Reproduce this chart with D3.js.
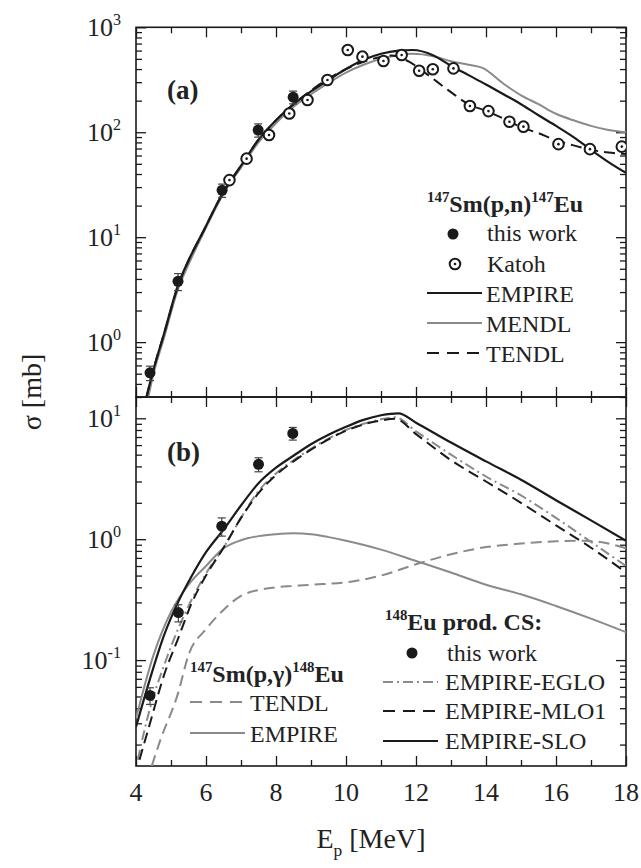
<!DOCTYPE html>
<html>
<head>
<meta charset="utf-8">
<script src="https://cdn.jsdelivr.net/npm/d3@7"></script>
<style>
body { margin: 0; background: #fff; }
text { font-family: "Liberation Serif", "Times New Roman", serif; fill: #222; }
</style>
</head>
<body>
<svg id="chart" width="641" height="868"></svg>
<script>
// ---- data ----
const energyTicks = [4, 6, 8, 10, 12, 14, 16, 18];

// (a) 147Sm(p,n)147Eu
const pnWorkE = [4.4, 5.2, 6.46, 7.49, 8.49];
const pnWorkCS = [0.51, 3.8, 28, 105, 216];
const pnWorkErr = [0.08, 0.7, 4, 15, 30];

const katohE = [6.67, 7.16, 7.8, 8.38, 8.9, 9.47, 10.05, 10.47, 11.07, 11.59, 12.09, 12.48, 13.07, 13.54, 14.07, 14.67, 15.07, 16.07, 16.97, 17.88];
const katohCS = [35, 56, 94, 151, 203, 315, 608, 525, 477, 545, 385, 398, 406, 178, 159, 126, 113, 77, 69, 73];

const pnEmpire = [[4.3, 0.3], [4.5, 0.55], [4.8, 1.2], [5.2, 3.5], [5.5, 6], [5.9, 11], [6.5, 27], [7, 48], [7.5, 85], [8, 130], [8.5, 185], [9, 245], [9.5, 315], [10, 400], [10.5, 490], [11, 560], [11.5, 600], [11.9, 608], [12.5, 540], [13, 430], [13.5, 350], [14, 285], [14.5, 230], [15, 185], [15.5, 145], [16, 115], [16.5, 90], [17, 68], [17.5, 52], [18, 41]];
const pnMendl = [[4.35, 0.3], [4.5, 0.5], [4.8, 1.1], [5.2, 3.2], [5.5, 5.5], [5.9, 10.5], [6.5, 26], [7, 46], [7.5, 80], [8, 122], [8.5, 175], [9, 230], [9.5, 295], [10, 370], [10.5, 440], [11, 500], [11.5, 545], [11.9, 560], [12.5, 530], [13, 475], [13.5, 440], [13.9, 410], [14.5, 290], [15, 225], [15.5, 185], [16, 150], [16.5, 130], [17, 115], [17.5, 105], [18, 100]];
const pnTendl = [[4.3, 0.3], [4.5, 0.55], [4.8, 1.2], [5.2, 3.4], [5.5, 6], [5.9, 11], [6.5, 27], [7, 48], [7.5, 85], [8, 130], [8.5, 185], [9, 250], [9.5, 325], [10, 400], [10.5, 470], [11, 520], [11.3, 540], [11.8, 470], [12.3, 360], [12.9, 255], [13.5, 185], [14, 160], [14.5, 135], [15, 112], [15.5, 98], [16, 84], [16.5, 75], [17, 68], [17.5, 64], [18, 62]];

// (b) 148Eu production
const pgWorkE = [4.4, 5.21, 6.45, 7.5, 8.48];
const pgWorkCS = [0.051, 0.247, 1.28, 4.16, 7.5];
const pgWorkErr = [0.008, 0.04, 0.22, 0.55, 0.9];

const euSlo = [[4.0, 0.028], [4.4, 0.07], [4.8, 0.16], [5.2, 0.3], [5.6, 0.5], [6, 0.78], [6.5, 1.2], [7, 1.9], [7.5, 2.9], [8, 3.9], [8.5, 4.9], [9, 6.1], [9.5, 7.3], [10, 8.5], [10.5, 9.7], [11, 10.6], [11.5, 11.0], [12, 9.2], [13, 6.3], [14, 4.4], [15, 3.1], [16, 2.1], [17, 1.43], [18, 0.97]];
const euEglo = [[4.05, 0.015], [4.4, 0.04], [4.8, 0.09], [5.2, 0.18], [5.6, 0.32], [6, 0.52], [6.5, 0.85], [7, 1.5], [7.5, 2.5], [8, 3.5], [8.5, 4.5], [9, 5.6], [9.5, 6.8], [10, 8.0], [10.5, 9.0], [11, 9.8], [11.4, 10.2], [12, 7.8], [13, 5.0], [14, 3.3], [15, 2.3], [16, 1.5], [17, 0.95], [18, 0.6]];
const euMlo1 = [[4.1, 0.015], [4.4, 0.03], [4.8, 0.075], [5.2, 0.15], [5.6, 0.3], [6, 0.5], [6.5, 0.85], [7, 1.5], [7.5, 2.4], [8, 3.4], [8.5, 4.4], [9, 5.5], [9.5, 6.7], [10, 7.9], [10.5, 8.9], [11, 9.6], [11.4, 9.9], [12, 7.4], [13, 4.5], [14, 3.0], [15, 2.0], [16, 1.3], [17, 0.85], [18, 0.53]];
const pgTendl = [[4.45, 0.0133], [4.7, 0.022], [5.2, 0.053], [5.5, 0.11], [6, 0.18], [6.5, 0.26], [7, 0.34], [7.5, 0.38], [8, 0.4], [8.5, 0.41], [9, 0.42], [10, 0.44], [11, 0.5], [12, 0.62], [13, 0.75], [14, 0.86], [15, 0.92], [16, 0.96], [16.8, 0.97], [17.5, 0.92], [18, 0.84]];
const pgEmpire = [[4.0, 0.033], [4.5, 0.11], [5, 0.25], [5.5, 0.42], [6, 0.6], [6.5, 0.84], [7, 0.98], [7.5, 1.06], [8, 1.1], [8.5, 1.12], [9, 1.1], [9.5, 1.04], [10, 0.97], [11, 0.82], [12, 0.66], [13, 0.53], [14, 0.42], [15, 0.35], [16, 0.28], [17, 0.22], [18, 0.17]];

// ---- layout ----
const GRAY = "#8a8a8a", BLACK = "#1a1a1a";
const frameL = 136, frameR = 626, frameT = 27.3, frameM = 397, frameB = 766;

const svg = d3.select("#chart");
const x = d3.scaleLinear().domain([4, 18]).range([frameL, frameR]);
const yA = d3.scaleLog().domain([0.3, 1000]).range([frameM, frameT]);
const yB = d3.scaleLog().domain([0.0133, 15]).range([frameB, frameM]);

function logMinor(y) {
	const [lo, hi] = y.domain();
	const out = [];
	for (let d = Math.floor(Math.log10(lo)); d <= Math.ceil(Math.log10(hi)); d++) {
		for (let m = 2; m <= 9; m++) {
			const v = m * Math.pow(10, d);
			if (v >= lo && v <= hi) out.push(v);
		}
	}
	return out;
}
function logMajor(y) {
	const [lo, hi] = y.domain();
	const out = [];
	for (let d = Math.ceil(Math.log10(lo)); d <= Math.floor(Math.log10(hi)); d++) out.push(Math.pow(10, d));
	return out;
}

function addAxis(g, axis, tr) {
	const a = g.append("g").attr("transform", tr).call(axis);
	a.select(".domain").remove();
	a.selectAll("line").attr("stroke", BLACK).attr("stroke-width", 1.3);
}

// rich text with superscript / subscript pieces
function rich(g, px, py, parts, size, opts = {}) {
	const t = g.append("text").attr("x", px).attr("y", py)
		.attr("font-size", size)
		.attr("font-weight", opts.bold ? "bold" : null)
		.attr("text-anchor", opts.anchor || "start");
	let shift = 0;
	parts.forEach(([s, kind]) => {
		const target = kind === "sup" ? -size * 0.42 : kind === "sub" ? size * 0.3 : 0;
		t.append("tspan")
			.attr("dy", target - shift)
			.attr("font-size", kind ? size * 0.62 : size)
			.text(s);
		shift = target;
	});
	return t;
}

function drawPanel(y, y0, y1, id) {
	const g = svg.append("g");
	g.append("clipPath").attr("id", id).append("rect")
		.attr("x", frameL).attr("y", y1).attr("width", frameR - frameL).attr("height", y0 - y1);

	const minorX = d3.range(5, 18, 2);
	addAxis(g, d3.axisBottom(x).tickValues(energyTicks).tickSize(-10).tickFormat(""), `translate(0,${y0})`);
	addAxis(g, d3.axisBottom(x).tickValues(minorX).tickSize(-6).tickFormat(""), `translate(0,${y0})`);
	addAxis(g, d3.axisTop(x).tickValues(energyTicks).tickSize(-10).tickFormat(""), `translate(0,${y1})`);
	addAxis(g, d3.axisTop(x).tickValues(minorX).tickSize(-6).tickFormat(""), `translate(0,${y1})`);
	addAxis(g, d3.axisLeft(y).tickValues(logMajor(y)).tickSize(-10).tickFormat(""), `translate(${frameL},0)`);
	addAxis(g, d3.axisLeft(y).tickValues(logMinor(y)).tickSize(-6).tickFormat(""), `translate(${frameL},0)`);
	addAxis(g, d3.axisRight(y).tickValues(logMajor(y)).tickSize(-10).tickFormat(""), `translate(${frameR},0)`);
	addAxis(g, d3.axisRight(y).tickValues(logMinor(y)).tickSize(-6).tickFormat(""), `translate(${frameR},0)`);

	g.append("rect").attr("x", frameL).attr("y", y1).attr("width", frameR - frameL).attr("height", y0 - y1)
		.attr("fill", "none").attr("stroke", BLACK).attr("stroke-width", 1.6);

	logMajor(y).forEach(v => {
		rich(g, 121, y(v) + 9, [["10"], [String(Math.round(Math.log10(v))), "sup"]], 26, { anchor: "end" });
	});
	return g.append("g").attr("clip-path", `url(#${id})`);
}

const line = (y) => d3.line().x(d => x(d[0])).y(d => y(d[1])).curve(d3.curveMonotoneX);

function curve(g, y, data, color, width, dash) {
	g.append("path").datum(data).attr("d", line(y))
		.attr("fill", "none").attr("stroke", color).attr("stroke-width", width)
		.attr("stroke-dasharray", dash || null);
}

function filledPoints(g, y, es, vs, errs) {
	es.forEach((e, i) => {
		const cx = x(e), lo = y(vs[i] - errs[i]), hi = y(vs[i] + errs[i]);
		g.append("line").attr("x1", cx).attr("x2", cx).attr("y1", lo).attr("y2", hi).attr("stroke", "#444").attr("stroke-width", 1.2);
		[lo, hi].forEach(yy => g.append("line").attr("x1", cx - 4).attr("x2", cx + 4).attr("y1", yy).attr("y2", yy).attr("stroke", "#444").attr("stroke-width", 1.2));
		g.append("circle").attr("cx", cx).attr("cy", y(vs[i])).attr("r", 5.5).attr("fill", BLACK);
	});
}

function katohMark(g, cx, cy) {
	g.append("circle").attr("cx", cx).attr("cy", cy).attr("r", 5.3).attr("fill", "#fff").attr("stroke", BLACK).attr("stroke-width", 2);
	g.append("circle").attr("cx", cx).attr("cy", cy).attr("r", 1.3).attr("fill", BLACK);
}

const DASH = "11,6", DASHDOT = "10,4,2,4";

// ---- panel (a) ----
const pa = drawPanel(yA, frameM, frameT, "clipA");
curve(pa, yA, pnMendl, GRAY, 2);
curve(pa, yA, pnTendl, BLACK, 2, DASH);
curve(pa, yA, pnEmpire, BLACK, 2.2);
katohE.forEach((e, i) => katohMark(pa, x(e), yA(katohCS[i])));
filledPoints(pa, yA, pnWorkE, pnWorkCS, pnWorkErr);

// ---- panel (b) ----
const pb = drawPanel(yB, frameB, frameM, "clipB");
curve(pb, yB, pgEmpire, GRAY, 2);
curve(pb, yB, pgTendl, GRAY, 2, DASH);
curve(pb, yB, euEglo, GRAY, 2, DASHDOT);
curve(pb, yB, euMlo1, BLACK, 2, DASH);
curve(pb, yB, euSlo, BLACK, 2.2);
filledPoints(pb, yB, pgWorkE, pgWorkCS, pgWorkErr);

// ---- labels ----
const lab = svg.append("g");
energyTicks.forEach(e => lab.append("text").attr("x", x(e)).attr("y", 801).attr("text-anchor", "middle").attr("font-size", 26).text(e));
rich(lab, 371, 848, [["E"], ["p", "sub"], [" [MeV]"]], 28, { anchor: "middle" });
lab.append("text").attr("transform", "translate(41,392) rotate(-90)").attr("text-anchor", "middle").attr("font-size", 28).text("σ [mb]");

lab.append("text").attr("x", 167).attr("y", 99).attr("font-size", 27).attr("font-weight", "bold").text("(a)");
lab.append("text").attr("x", 167).attr("y", 461).attr("font-size", 27).attr("font-weight", "bold").text("(b)");

// legend rows
function legendLine(g, x1, x2, yy, color, width, dash) {
	g.append("line").attr("x1", x1).attr("x2", x2).attr("y1", yy).attr("y2", yy)
		.attr("stroke", color).attr("stroke-width", width).attr("stroke-dasharray", dash || null);
}
function legendText(g, px, py, s) {
	g.append("text").attr("x", px).attr("y", py).attr("font-size", 24).text(s);
}

// (a) legend
rich(lab, 427, 212, [["147", "sup"], ["Sm(p,n)"], ["147", "sup"], ["Eu"]], 24, { bold: true });
lab.append("circle").attr("cx", 453).attr("cy", 234).attr("r", 5.5).attr("fill", BLACK);
legendText(lab, 487, 241, "this work");
katohMark(lab, 455, 264);
legendText(lab, 487, 272, "Katoh");
legendLine(lab, 427, 482, 293, BLACK, 2.2);
legendText(lab, 486, 302, "EMPIRE");
legendLine(lab, 427, 482, 323, GRAY, 2);
legendText(lab, 486, 332, "MENDL");
legendLine(lab, 427, 482, 353, BLACK, 2, "12,8");
legendText(lab, 486, 362, "TENDL");

// (b) right legend
rich(lab, 385, 630, [["148", "sup"], ["Eu prod. CS:"]], 24, { bold: true });
lab.append("circle").attr("cx", 412).attr("cy", 653).attr("r", 5.5).attr("fill", BLACK);
legendText(lab, 447, 661, "this work");
legendLine(lab, 383, 438, 682, GRAY, 2, DASHDOT);
legendText(lab, 445, 690, "EMPIRE-EGLO");
legendLine(lab, 383, 438, 711, BLACK, 2, "12,8");
legendText(lab, 445, 719, "EMPIRE-MLO1");
legendLine(lab, 383, 438, 741, BLACK, 2.2);
legendText(lab, 445, 749, "EMPIRE-SLO");

// (b) left legend
rich(lab, 190, 682, [["147", "sup"], ["Sm(p,γ)"], ["148", "sup"], ["Eu"]], 24, { bold: true });
legendLine(lab, 190, 245, 702, GRAY, 2, "12,8");
legendText(lab, 250, 711, "TENDL");
legendLine(lab, 190, 245, 733, GRAY, 2);
legendText(lab, 250, 742, "EMPIRE");
</script>
</body>
</html>
